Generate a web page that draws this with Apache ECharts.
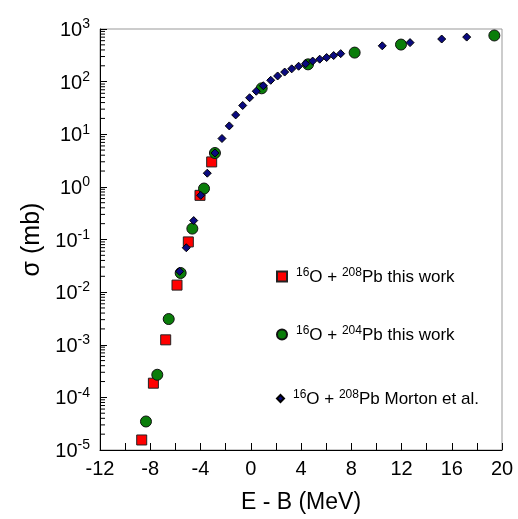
<!DOCTYPE html>
<html><head><meta charset="utf-8">
<script src="https://cdn.jsdelivr.net/npm/echarts@6/dist/echarts.min.js"></script>
<style>html,body{margin:0;padding:0;background:#fff}#c{width:518px;height:519px}</style>
</head><body><div id="c"></div>
<script>
var xTicks = [-12, -8, -4, 0, 4, 8, 12, 16, 20];
var yExponents = [-5, -4, -3, -2, -1, 0, 1, 2, 3];

var redX = [-8.68, -7.75, -6.77, -5.87, -4.97, -4.04, -3.11];
var redY = [1.55e-5, 1.86e-4, 1.24e-3, 0.0136, 0.09, 0.69, 2.98];

var greenX = [-8.34, -7.44, -6.53, -5.58, -4.65, -3.72, -2.85, 0.87, 4.56, 8.27, 11.96, 19.39];
var greenY = [3.48e-5, 2.69e-4, 3.08e-3, 0.0231, 0.161, 0.93, 4.4, 74.6, 213, 356, 506, 753];

var blueX = [-5.66, -5.13, -4.54, -3.98, -3.46, -2.85, -2.29, -1.71, -1.20, -0.64, -0.09, 0.44, 1.00, 1.59, 2.14, 2.70, 3.26, 3.81, 4.37, 4.93, 5.49, 6.04, 6.60, 7.16, 10.47, 12.68, 15.20, 17.19];
var blueY = [0.0248, 0.0697, 0.229, 0.69, 1.82, 4.4, 8.3, 14.4, 23.3, 35.2, 49.4, 65.7, 83.6, 106, 128, 152, 175, 196, 219, 246, 267, 287, 313, 340, 479, 551, 645, 702];

var legendNames = {
  red: '{g|}{s|16}{n|O + }{s|208}{n|Pb this work}',
  green: '{g|}{s|16}{n|O + }{s|204}{n|Pb this work}',
  blue: '{g|}{s|16}{n|O + }{s|208}{n|Pb Morton et al.}'
};

function pairs(xs, ys) { return xs.map(function (x, i) { return [x, ys[i]]; }); }

var minorVals = [];
for (var e = yExponents[0]; e < yExponents[yExponents.length - 1]; e++) {
  for (var m = 2; m <= 9; m++) minorVals.push([xTicks[0], m * Math.pow(10, e)]);
}

var FONT = 'Liberation Sans';
var legendRich = {
  g: { width: 4 },
  n: { fontSize: 17, fontFamily: FONT, color: '#000', verticalAlign: 'bottom' },
  s: { fontSize: 12, fontFamily: FONT, color: '#000', verticalAlign: 'bottom', padding: [0, 0, 7, 0] }
};
function mkLegend(name, top, w, h) {
  return {
    data: [name], left: 271, top: top, orient: 'vertical',
    itemWidth: w, itemHeight: h, itemGap: 0,
    formatter: function (n) { return legendNames[n]; },
    textStyle: { rich: legendRich, fontFamily: FONT }
  };
}

var chart = echarts.init(document.getElementById('c'), null, { renderer: 'canvas' });
chart.setOption({
  animation: false,
  backgroundColor: '#fff',
  grid: { left: 100, right: 16, top: 29, bottom: 57, show: true, borderColor: '#999', borderWidth: 1 },
  legend: [
    mkLegend('red', 262, 10, 10),
    mkLegend('green', 320, 10, 10),
    mkLegend('blue', 384, 7, 7)
  ],
  xAxis: {
    type: 'value', min: xTicks[0], max: xTicks[xTicks.length - 1], interval: 4,
    name: 'E - B (MeV)', nameLocation: 'middle', nameGap: 41,
    nameTextStyle: { fontSize: 23, fontFamily: FONT, color: '#000' },
    axisLine: { onZero: false, lineStyle: { color: '#000', width: 1 } },
    axisTick: { inside: true, length: 7, lineStyle: { color: '#000' } },
    minorTick: { show: true, splitNumber: 2, length: 7, lineStyle: { color: '#000' } },
    splitLine: { show: false },
    axisLabel: { fontSize: 20, fontFamily: FONT, color: '#000', margin: 9 }
  },
  yAxis: {
    type: 'log', logBase: 10, min: Math.pow(10, yExponents[0]), max: Math.pow(10, yExponents[yExponents.length - 1]),
    splitNumber: 8,
    name: 'σ (mb)', nameLocation: 'middle', nameGap: 48, nameRotate: 90,
    nameTextStyle: { fontSize: 25, fontFamily: FONT, color: '#000' },
    axisLine: { onZero: false, lineStyle: { color: '#000', width: 1 } },
    axisTick: { inside: true, length: 7, lineStyle: { color: '#000' } },
    splitLine: { show: false },
    axisLabel: {
      margin: 10, fontFamily: FONT, color: '#000',
      formatter: function (v) { return '{b|10}{s|' + Math.round(Math.log10(v)) + '}'; },
      rich: {
        b: { fontSize: 20, fontFamily: FONT, color: '#000', verticalAlign: 'bottom' },
        s: { fontSize: 14, fontFamily: FONT, color: '#000', verticalAlign: 'bottom', padding: [0, 0, 9, 0] }
      }
    }
  },
  series: [
    {
      type: 'custom', name: 'minor', silent: true, data: minorVals, z: 1,
      renderItem: function (params, api) {
        var p = api.coord([api.value(0), api.value(1)]);
        return { type: 'line', shape: { x1: p[0], y1: p[1], x2: p[0] + 5, y2: p[1] }, style: { stroke: '#000', lineWidth: 1 } };
      }
    },
    {
      type: 'scatter', name: 'red', data: pairs(redX, redY), symbol: 'rect', symbolSize: 10, z: 2,
      itemStyle: { color: '#ff0000', borderColor: '#222', borderWidth: 1, opacity: 1 }
    },
    {
      type: 'scatter', name: 'green', data: pairs(greenX, greenY), symbol: 'circle', symbolSize: 11, z: 3,
      itemStyle: { color: '#0a7d0a', borderColor: '#111', borderWidth: 1, opacity: 1 }
    },
    {
      type: 'scatter', name: 'blue', data: pairs(blueX, blueY), symbol: 'diamond', symbolSize: 8, z: 4,
      itemStyle: { color: '#0a0a80', borderColor: '#000', borderWidth: 1, opacity: 1 }
    }
  ]
});
</script></body></html>
